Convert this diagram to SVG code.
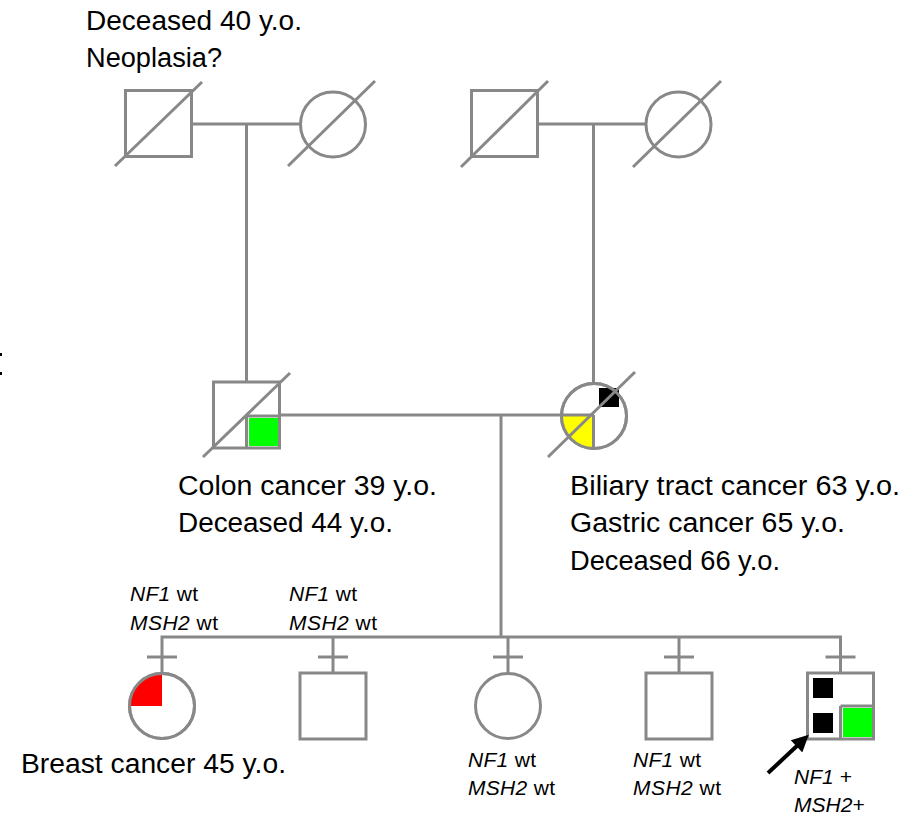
<svg xmlns="http://www.w3.org/2000/svg" width="918" height="816" viewBox="0 0 918 816">
<defs>
<style>
.s{fill:#fff;stroke:#888;stroke-width:3}
.l{fill:none;stroke:#888;stroke-width:3}
.t{font-family:"Liberation Sans",Arial,sans-serif;font-size:27px;fill:#000}
.n{font-family:"Liberation Sans",Arial,sans-serif;font-size:21px;fill:#000}
.i{font-style:italic}
</style>
<marker id="ah" viewBox="0 0 10 10" refX="2" refY="5" markerWidth="4.5" markerHeight="4.2" orient="auto" markerUnits="strokeWidth">
<path d="M0,0 L10,5 L0,10 Z" fill="#000"/>
</marker>
</defs>
<rect width="918" height="816" fill="#fff"/>
<rect x="0" y="353" width="2" height="3" fill="#000"/>
<rect x="0" y="372" width="2" height="3" fill="#000"/>

<g id="connectors">
<line class="l" x1="191.5" y1="124" x2="300.5" y2="124"/>
<line class="l" x1="246.5" y1="124" x2="246.5" y2="382"/>
<line class="l" x1="537.5" y1="124" x2="646.5" y2="124"/>
<line class="l" x1="593.5" y1="124" x2="593.5" y2="384"/>
<line class="l" x1="279.5" y1="415" x2="561" y2="415"/>
<line class="l" x1="501" y1="415" x2="501" y2="637"/>
<polyline class="l" points="162,673 162,637 840.5,637 840.5,673"/>
<line class="l" x1="333" y1="637" x2="333" y2="673"/>
<line class="l" x1="508" y1="637" x2="508" y2="673"/>
<line class="l" x1="679" y1="637" x2="679" y2="673"/>
<line class="l" x1="147" y1="657" x2="177" y2="657"/>
<line class="l" x1="318" y1="657" x2="348" y2="657"/>
<line class="l" x1="493" y1="657" x2="523" y2="657"/>
<line class="l" x1="664" y1="657" x2="694" y2="657"/>
<line class="l" x1="825.5" y1="657" x2="855.5" y2="657"/>
</g>

<g id="gf1">
<rect class="s" x="125.5" y="90.5" width="66" height="66"/>
<line class="l" x1="115" y1="166" x2="202" y2="82"/>
<text class="t" x="86" y="30" textLength="216" lengthAdjust="spacingAndGlyphs">Deceased 40 y.o.</text>
<text class="t" x="86" y="67" textLength="136" lengthAdjust="spacingAndGlyphs">Neoplasia?</text>
</g>
<g id="gm1">
<circle class="s" cx="333" cy="124.5" r="32.5"/>
<line class="l" x1="288" y1="166" x2="375" y2="81"/>
</g>
<g id="gf2">
<rect class="s" x="471.5" y="90.5" width="66" height="66"/>
<line class="l" x1="461" y1="167" x2="548" y2="81"/>
</g>
<g id="gm2">
<circle class="s" cx="678.5" cy="124.5" r="32.5"/>
<line class="l" x1="633" y1="167" x2="721" y2="81"/>
</g>

<g id="father">
<rect class="s" x="213.5" y="382" width="66" height="66"/>
<rect x="249" y="418" width="29" height="28" fill="#00ff00"/>
<line class="l" x1="246.5" y1="415" x2="246.5" y2="448"/>
<line class="l" x1="246.5" y1="416" x2="279.5" y2="416"/>
<line class="l" x1="203" y1="457" x2="290" y2="373"/>
<text class="t" x="178" y="495" textLength="259" lengthAdjust="spacingAndGlyphs">Colon cancer 39 y.o.</text>
<text class="t" x="178" y="532" textLength="215" lengthAdjust="spacingAndGlyphs">Deceased 44 y.o.</text>
</g>

<g id="mother">
<circle class="s" cx="594" cy="416" r="32.5"/>
<path d="M594,416 L561.5,416 A32.5,32.5 0 0,0 594,448.5 Z" fill="#ffff00"/>
<rect x="599" y="388" width="20" height="19" fill="#000"/>
<line class="l" x1="561.5" y1="415" x2="594" y2="415"/>
<line class="l" x1="593.5" y1="415" x2="593.5" y2="448.5"/>
<circle class="l" cx="594" cy="416" r="32.5"/>
<line class="l" x1="548" y1="457" x2="635" y2="372"/>
<text class="t" x="570" y="495" textLength="330" lengthAdjust="spacingAndGlyphs">Biliary tract cancer 63 y.o.</text>
<text class="t" x="570" y="532" textLength="275" lengthAdjust="spacingAndGlyphs">Gastric cancer 65 y.o.</text>
<text class="t" x="570" y="570" textLength="210" lengthAdjust="spacingAndGlyphs">Deceased 66 y.o.</text>
</g>

<g id="child1">
<circle class="s" cx="162" cy="706" r="32.5"/>
<path d="M162,706 L129.5,706 A32.5,32.5 0 0,1 162,673.5 Z" fill="#ff0000"/>
<circle class="l" cx="162" cy="706" r="32.5"/>
<text class="n" x="130" y="601" textLength="68"><tspan class="i">NF1</tspan> wt</text>
<text class="n" x="130" y="630" textLength="88"><tspan class="i">MSH2</tspan> wt</text>
<text class="t" x="21" y="773" textLength="265" lengthAdjust="spacingAndGlyphs">Breast cancer 45 y.o.</text>
</g>

<g id="child2">
<rect class="s" x="300" y="673" width="66" height="66"/>
<text class="n" x="289" y="601" textLength="68"><tspan class="i">NF1</tspan> wt</text>
<text class="n" x="289" y="630" textLength="88"><tspan class="i">MSH2</tspan> wt</text>
</g>

<g id="child3">
<circle class="s" cx="508" cy="706" r="32.5"/>
<text class="n" x="468" y="767" textLength="68"><tspan class="i">NF1</tspan> wt</text>
<text class="n" x="468" y="795" textLength="87"><tspan class="i">MSH2</tspan> wt</text>
</g>

<g id="child4">
<rect class="s" x="646" y="673" width="66" height="66"/>
<text class="n" x="633" y="767" textLength="68"><tspan class="i">NF1</tspan> wt</text>
<text class="n" x="633" y="795" textLength="88"><tspan class="i">MSH2</tspan> wt</text>
</g>

<g id="proband">
<rect class="s" x="807.5" y="673" width="66" height="66"/>
<rect x="813" y="678" width="20" height="20" fill="#000"/>
<rect x="813" y="713" width="20" height="20" fill="#000"/>
<rect x="843" y="708" width="29" height="29" fill="#00ff00"/>
<line class="l" x1="840.5" y1="706" x2="840.5" y2="739"/>
<line class="l" x1="840.5" y1="706" x2="873.5" y2="706"/>
<line x1="768" y1="773" x2="799" y2="744" stroke="#000" stroke-width="4" marker-end="url(#ah)"/>
<text class="n i" x="794" y="784">NF1 +</text>
<text class="n i" x="794" y="812">MSH2+</text>
</g>
</svg>
